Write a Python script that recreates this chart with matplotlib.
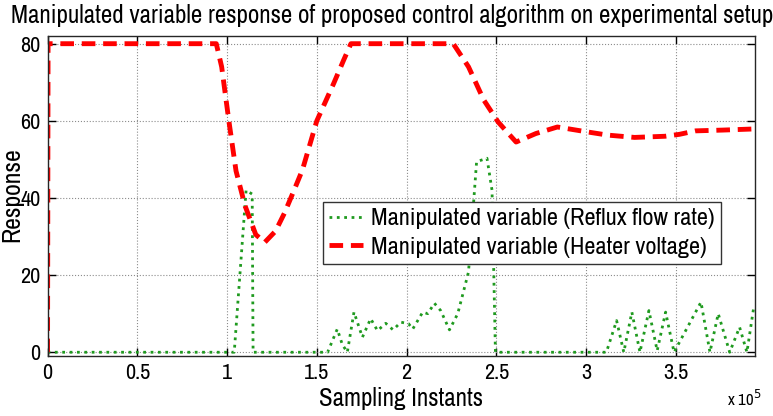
import matplotlib
matplotlib.use('Agg')
import matplotlib.pyplot as plt

plt.rcParams['font.family'] = ['Archivo Narrow', 'DejaVu Sans']

# sampling instants in units of 1e5
heater_x = [0, 0.003, 0.94, 0.97, 1.01, 1.05, 1.10, 1.16, 1.21, 1.27, 1.32, 1.375, 1.42, 1.50,
            1.594, 1.65, 1.69, 2.26, 2.345, 2.43, 2.51, 2.61, 2.72, 2.84, 3.01, 3.12, 3.27,
            3.44, 3.52, 3.61, 3.76, 3.94]
heater_y = [0, 80, 80, 74, 60, 47, 38, 30.5, 28.5, 31.4, 36.1, 42.2, 47.3, 60,
            69.7, 75.8, 80, 80, 74, 65.4, 59.7, 54.5, 56.7, 58.4, 57.1, 56.3, 55.7,
            56, 56.5, 57.4, 57.6, 57.9]

reflux_x = [0, 1.04, 1.106, 1.14, 1.145, 1.56, 1.614, 1.642, 1.67, 1.707, 1.754, 1.80, 1.838,
            1.884, 1.925, 1.968, 2.011, 2.034, 2.09, 2.118, 2.155, 2.19, 2.239, 2.285, 2.313,
            2.345, 2.39, 2.448, 2.476, 2.495, 3.113, 3.17, 3.21, 3.255, 3.30, 3.35, 3.396,
            3.443, 3.49, 3.64, 3.69, 3.736, 3.80, 3.855, 3.896, 3.934, 3.94]
reflux_y = [0, 0, 42, 41, 0, 0, 6, 2, 0, 10.4, 3.9, 8.7, 5.6,
            7.5, 5.8, 7.8, 7.4, 6, 10.4, 10, 12.7, 10.8, 5.8, 10, 15,
            20.8, 49.4, 50.3, 42, 0, 0, 8.2, 0, 10.4, 0, 10.8, 0.4,
            10.4, 0, 13, 0, 10, 0, 6.5, 0, 11.7, 11.7]

xticks = [0, 0.5, 1, 1.5, 2, 2.5, 3, 3.5]
xticklabels = ['0', '0.5', '1', '1.5', '2', '2.5', '3', '3.5']
yticks = [0, 20, 40, 60, 80]

fig = plt.figure(figsize=(7.73, 4.16), dpi=100)
ax = fig.add_axes([0.0615, 0.144, 0.915, 0.7695])

ax.plot(reflux_x, reflux_y, linestyle=':', color='#1f9a1f', lw=2,
        label='Manipulated variable (Reflux flow rate)')
ax.plot(heater_x, heater_y, linestyle='--', color='#ff0000', lw=3.5, dashes=(2.8, 1.6),
        label='Manipulated variable (Heater voltage)')

ax.set_xlim(0, 3.94)
ax.set_ylim(-1, 82)
ax.set_xticks(xticks)
ax.set_xticklabels(xticklabels)
ax.set_yticks(yticks)
ax.tick_params(direction='in', length=6, width=1, top=True, right=True, labelsize=16, pad=5)
ax.grid(True, linestyle=':', color='0.55', lw=0.8)
for s in ax.spines.values():
    s.set_color('0.15')
    s.set_linewidth(1)

ax.set_xlabel('Sampling Instants', fontsize=18, labelpad=3)
ax.set_ylabel('Response', fontsize=18.5)
ax.yaxis.set_label_coords(-0.035, 0.503)
fig.text(0.507, 0.962, 'Manipulated variable response of proposed control algorithm on experimental setup',
         fontsize=18, ha='center', va='center')
fig.text(0.941, 0.016, r'x 10$^{5}$', fontsize=12, ha='left', va='bottom')

leg = ax.legend(loc='upper right', bbox_to_anchor=(0.952, 0.481), fontsize=17.5, frameon=True,
                fancybox=False, edgecolor='0.2', framealpha=1, borderpad=0.25, handlelength=1.4,
                handletextpad=0.35, labelspacing=0.3, borderaxespad=0)
leg.get_frame().set_linewidth(1)

fig.savefig('out.png', dpi=100)
